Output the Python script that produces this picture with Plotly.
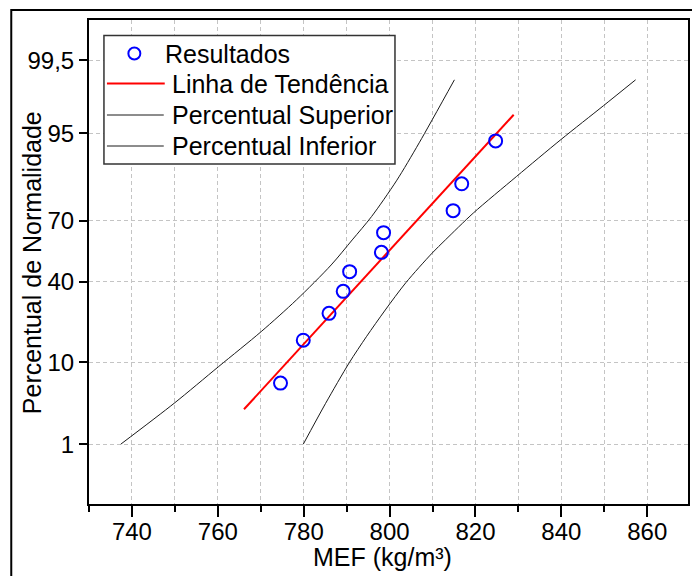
from statistics import NormalDist

import plotly.graph_objects as go

# --- data -------------------------------------------------------------
mef = [774.6, 779.9, 785.9, 789.2, 790.7, 798.1, 798.6, 814.8, 816.8, 824.7]
pct = [6.1, 15.9, 25.6, 35.4, 45.1, 54.9, 64.6, 74.4, 84.1, 93.9]

trend_x = [766.1, 828.9]
trend_p = [3.0, 97.0]

sup_x = [737.4, 749.8, 760.2, 770.1, 778.3, 786.4, 791.3, 795.8, 801.6, 806.9, 815.1]
sup_p = [1.0, 3.55, 9.1, 18.7, 31.4, 48.5, 61.1, 71.9, 85.0, 93.6, 99.0]

inf_x = [779.9, 785.1, 790.6, 794.6, 799.0, 803.8, 809.9, 813.0, 819.5, 829.6, 839.9, 849.8, 857.3]
inf_p = [1.0, 3.55, 9.9, 17.0, 27.0, 39.6, 54.5, 61.1, 73.4, 86.3, 94.1, 97.7, 99.0]

y_ticks = [1, 10, 40, 70, 95, 99.5]
y_tick_text = ["1", "10", "40", "70", "95", "99,5"]
x_range = [730, 869.5]
p_range = [0.1, 99.9]

legend_items = ["Resultados", "Linha de Tendência", "Percentual Superior", "Percentual Inferior"]

# --- probability (normal) scale ----------------------------------------
_nd = NormalDist()


def probit(values):
    return [_nd.inv_cdf(v / 100.0) for v in values]


FONT = "Liberation Sans, Arial, sans-serif"
GRID = "#c4c4c4"
W, H = 692, 576
ML, MR, MT, MB = 89, 2, 20, 72
PW, PH = W - ML - MR, H - MT - MB


def fx(x_px):
    return (x_px - ML) / PW


def fy(y_px):
    return (MT + PH - y_px) / PH


fig = go.Figure()

fig.add_trace(go.Scatter(x=sup_x, y=probit(sup_p), mode="lines",
                         line=dict(color="#1a1a1a", width=1, shape="spline", smoothing=0.8),
                         name=legend_items[2], hoverinfo="skip"))
fig.add_trace(go.Scatter(x=inf_x, y=probit(inf_p), mode="lines",
                         line=dict(color="#1a1a1a", width=1, shape="spline", smoothing=0.8),
                         name=legend_items[3], hoverinfo="skip"))
fig.add_trace(go.Scatter(x=trend_x, y=probit(trend_p), mode="lines",
                         line=dict(color="#ff0000", width=2),
                         name=legend_items[1]))
fig.add_trace(go.Scatter(x=mef, y=probit(pct), mode="markers",
                         marker=dict(symbol="circle-open", size=13, color="#0000ff",
                                     line=dict(width=2, color="#0000ff")),
                         name=legend_items[0]))

axis_common = dict(
    showline=True, linewidth=2, linecolor="black", mirror=True,
    ticks="outside", tickwidth=2, tickcolor="black",
    showgrid=True, gridcolor=GRID, gridwidth=1, griddash="4px,3px",
    zeroline=False, tickfont=dict(family=FONT, size=24, color="black"),
)

fig.update_xaxes(range=x_range, tick0=740, dtick=20, ticklen=11,
                 ticklabelstandoff=-6,
                 minor=dict(tick0=730, dtick=10, ticks="outside", ticklen=6,
                            tickwidth=2, tickcolor="black", showgrid=True,
                            gridcolor=GRID, gridwidth=1, griddash="4px,3px"),
                 **axis_common)
fig.update_yaxes(range=probit(p_range), tickmode="array",
                 tickvals=probit(y_ticks), ticktext=y_tick_text, ticklen=8,
                 **axis_common)

shapes = [
    # outer frame around the figure
    dict(type="rect", xref="paper", yref="paper", x0=fx(11), x1=fx(760),
         y0=fy(10), y1=fy(640), line=dict(color="black", width=2), layer="above"),
    # legend box
    dict(type="rect", xref="paper", yref="paper", x0=fx(104), x1=fx(396),
         y0=fy(35.5), y1=fy(164), line=dict(color="#333333", width=1.5),
         fillcolor="white", layer="above"),
    # legend symbols
    dict(type="circle", xref="paper", yref="paper", x0=fx(128.5), x1=fx(140.5),
         y0=fy(47.5), y1=fy(59.5), line=dict(color="#0000ff", width=2), layer="above"),
    dict(type="line", xref="paper", yref="paper", x0=fx(107), x1=fx(165),
         y0=fy(83.5), y1=fy(83.5), line=dict(color="#ff0000", width=2), layer="above"),
    dict(type="line", xref="paper", yref="paper", x0=fx(107), x1=fx(164),
         y0=fy(115), y1=fy(115), line=dict(color="#1a1a1a", width=1), layer="above"),
    dict(type="line", xref="paper", yref="paper", x0=fx(107), x1=fx(164),
         y0=fy(146), y1=fy(146), line=dict(color="#1a1a1a", width=1), layer="above"),
]

annotations = [
    dict(text=legend_items[0], x=fx(163), y=fy(53.5)),
    dict(text=legend_items[1], x=fx(170), y=fy(83.5)),
    dict(text=legend_items[2], x=fx(170), y=fy(115)),
    dict(text=legend_items[3], x=fx(170), y=fy(146)),
]
for a in annotations:
    a.update(xref="paper", yref="paper", xanchor="left", yanchor="middle",
             showarrow=False, font=dict(family=FONT, size=25, color="black"))

annotations += [
    dict(text="MEF (kg/m³)", xref="paper", yref="paper", x=fx(383.5), y=fy(557),
         xanchor="center", yanchor="middle", showarrow=False,
         font=dict(family=FONT, size=25, color="black")),
    dict(text="Percentual de Normalidade", xref="paper", yref="paper", x=fx(32),
         y=fy(263), xanchor="center", yanchor="middle", textangle=-90,
         showarrow=False, font=dict(family=FONT, size=25, color="black")),
]

fig.update_layout(
    width=W, height=H, margin=dict(l=ML, r=MR, t=MT, b=MB),
    paper_bgcolor="white", plot_bgcolor="white", showlegend=False,
    font=dict(family=FONT, size=24, color="black"),
    shapes=shapes, annotations=annotations,
)

fig.write_html("out.html")
